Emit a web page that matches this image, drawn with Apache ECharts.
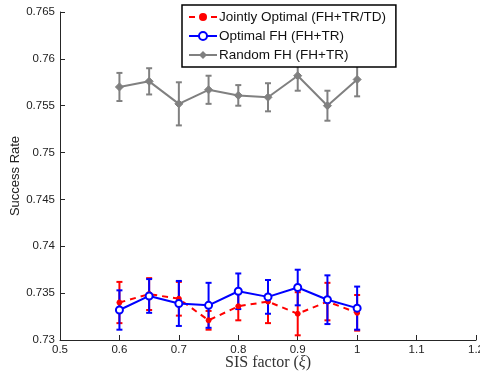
<!DOCTYPE html>
<html><head><meta charset="utf-8">
<script src="https://cdn.jsdelivr.net/npm/echarts@6/dist/echarts.min.js"></script>
<style>html,body{margin:0;padding:0;background:#fff}#c{width:480px;height:371px}</style>
</head><body><div id="c"></div>
<script>
const xs = [0.6, 0.65, 0.7, 0.75, 0.8, 0.85, 0.9, 0.95, 1.0];
const jointMean = [0.7340, 0.7349, 0.7344, 0.7321, 0.7336, 0.7341, 0.7328, 0.7341, 0.7329];
const jointErr  = [0.0022, 0.0017, 0.0018, 0.0010, 0.0015, 0.0023, 0.0023, 0.0020, 0.0019];
const optMean   = [0.7332, 0.7347, 0.7339, 0.7337, 0.7352, 0.7346, 0.7356, 0.7343, 0.7334];
const optErr    = [0.0021, 0.0018, 0.0024, 0.0024, 0.0019, 0.0018, 0.0019, 0.0026, 0.0023];
const randMean  = [0.7570, 0.7576, 0.7552, 0.7567, 0.7561, 0.7559, 0.7582, 0.7550, 0.7578];
const randErr   = [0.0015, 0.0014, 0.0023, 0.0015, 0.0011, 0.0015, 0.0016, 0.0016, 0.0018];
const names = ['Jointly Optimal (FH+TR/TD)', 'Optimal FH (FH+TR)', 'Random FH (FH+TR)'];
const colors = ['#ff0000', '#0000ff', '#808080'];

function pts(m){ return xs.map((x,i)=>[x, m[i]]); }
function errData(m,e){ return xs.map((x,i)=>[x, m[i]-e[i], m[i]+e[i]]); }
function errSeries(m,e,color){
  return {
    type:'custom', silent:true, data: errData(m,e), z:2,
    renderItem:function(params, api){
      const x = api.value(0);
      const lo = api.coord([x, api.value(1)]);
      const hi = api.coord([x, api.value(2)]);
      const w = 3;
      const st = {stroke:color, lineWidth:2};
      return {type:'group', children:[
        {type:'line', shape:{x1:lo[0], y1:lo[1], x2:hi[0], y2:hi[1]}, style:st},
        {type:'line', shape:{x1:lo[0]-w, y1:lo[1], x2:lo[0]+w, y2:lo[1]}, style:st},
        {type:'line', shape:{x1:hi[0]-w, y1:hi[1], x2:hi[0]+w, y2:hi[1]}, style:st}
      ]};
    }
  };
}
const chart = echarts.init(document.getElementById('c'), null, {renderer:'canvas'});
const axisCol = '#262626';
chart.setOption({
  animation:false,
  backgroundColor:'#fff',
  grid:{left:60, right:4, top:12, bottom:31, containLabel:false, outerBoundsMode:'none'},
  xAxis:{
    type:'value', min:0.5, max:1.2, interval:0.1,
    axisLine:{lineStyle:{color:axisCol, width:1}},
    axisTick:{inside:true, length:5, lineStyle:{color:axisCol}},
    splitLine:{show:false},
    axisLabel:{color:'#222', fontSize:11.5, fontFamily:'Liberation Sans', margin:4, hideOverlap:false},
    name:'SIS factor ({i|ξ})', nameLocation:'middle', nameGap:15, nameMoveOverlap:false,
    nameTextStyle:{fontFamily:'Liberation Serif', fontSize:16, color:'#333',
      rich:{i:{fontFamily:'Liberation Serif', fontStyle:'italic', fontSize:16, color:'#333'}}}
  },
  yAxis:{
    type:'value', min:0.73, max:0.765, interval:0.005,
    axisLine:{show:true, lineStyle:{color:axisCol, width:1}},
    axisTick:{show:true, inside:true, length:5, lineStyle:{color:axisCol}},
    splitLine:{show:false},
    axisLabel:{color:'#222', fontSize:11.5, fontFamily:'Liberation Sans', margin:5},
    name:'Success Rate', nameLocation:'middle', nameGap:38, nameRotate:90, nameMoveOverlap:false,
    nameTextStyle:{fontFamily:'Liberation Sans', fontSize:13, color:'#222'}
  },
  legend:{
    orient:'vertical', left:182, top:5, width:212,
    data:names,
    backgroundColor:'#fff', borderColor:'#000', borderWidth:1.5, borderRadius:0,
    padding:[5,10,5,6], itemGap:5, itemWidth:28, itemHeight:10,
    textStyle:{fontFamily:'Liberation Sans', fontSize:13.5, color:'#111', padding:[0,0,0,-3]}
  },
  series:[
    errSeries(jointMean, jointErr, colors[0]),
    {type:'line', name:names[0], data:pts(jointMean), z:3, color:colors[0],
     lineStyle:{color:colors[0], width:2, type:[6,5]}, symbol:'circle', symbolSize:5,
     itemStyle:{color:colors[0], borderColor:colors[0]}},
    errSeries(optMean, optErr, colors[1]),
    {type:'line', name:names[1], data:pts(optMean), z:4, color:colors[1],
     lineStyle:{color:colors[1], width:2}, symbol:'emptyCircle', symbolSize:7,
     itemStyle:{color:colors[1], borderColor:colors[1], borderWidth:1.5}},
    errSeries(randMean, randErr, colors[2]),
    {type:'line', name:names[2], data:pts(randMean), z:4, color:colors[2],
     lineStyle:{color:colors[2], width:2}, symbol:'diamond', symbolSize:8,
     itemStyle:{color:colors[2], borderColor:colors[2]}}
  ]
});
</script></body></html>
